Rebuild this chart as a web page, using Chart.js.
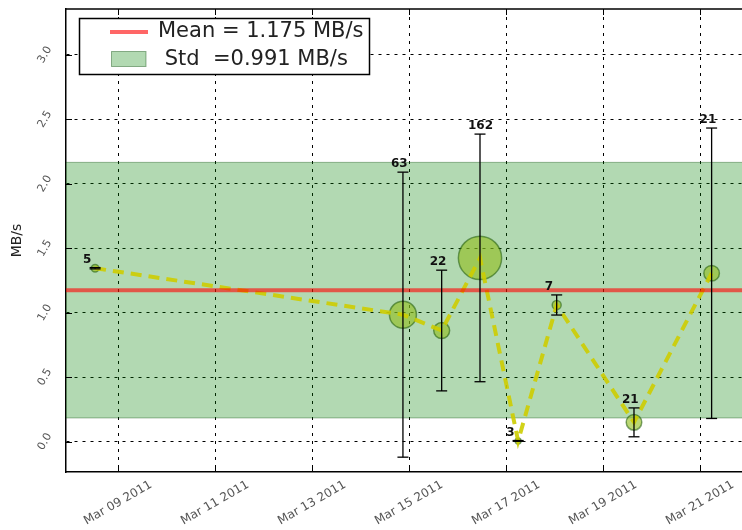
<!DOCTYPE html>
<html>
<head>
<meta charset="utf-8">
<script src="https://cdn.jsdelivr.net/npm/chart.js@4/dist/chart.umd.min.js"></script>
<style>
  html, body { margin: 0; padding: 0; background: #fff; overflow: hidden; }
  canvas { display: block; }
</style>
</head>
<body>
<canvas id="c" width="742" height="530"></canvas>
<script>
// Throughput samples: time of each run (UTC), mean rate, error half-width, number of transfers
const sampleTimes = [
  '2011-03-08T12:40:00Z', '2011-03-14T21:00:00Z', '2011-03-15T16:10:00Z', '2011-03-16T11:08:00Z',
  '2011-03-17T06:00:00Z', '2011-03-18T01:05:00Z', '2011-03-19T15:20:00Z', '2011-03-21T05:45:00Z'
];
const rates   = [1.345, 0.985, 0.862, 1.425, 0.006, 1.060, 0.150, 1.306];
const rateErr = [0.005, 1.105, 0.468, 0.960, 0.003, 0.078, 0.112, 1.126];
const counts  = [5, 63, 22, 162, 3, 7, 21, 21];

// Overall statistics (MB/s)
const MEAN = 1.175;
const STD = 0.991;

// Axis ticks
const tickDates  = ['2011-03-09', '2011-03-11', '2011-03-13', '2011-03-15', '2011-03-17', '2011-03-19', '2011-03-21'];
const tickLabels = ['Mar 09 2011', 'Mar 11 2011', 'Mar 13 2011', 'Mar 15 2011', 'Mar 17 2011', 'Mar 19 2011', 'Mar 21 2011'];
const yTicks      = [0, 0.5, 1.0, 1.5, 2.0, 2.5, 3.0];
const yTickLabels = ['0.0', '0.5', '1.0', '1.5', '2.0', '2.5', '3.0'];
const X_RANGE = ['2011-03-07T22:16:00Z', '2011-03-21T20:47:00Z'];
const Y_RANGE = [-0.235, 3.355];

const DAY_MS = 86400000;
const toDay = s => Date.parse(s) / DAY_MS;
const days = sampleTimes.map(toDay);
const tickDays = tickDates.map(d => toDay(d + 'T00:00:00Z'));
const xMin = toDay(X_RANGE[0]);
const xMax = toDay(X_RANGE[1]);

const points = days.map((d, i) => ({ x: d, y: rates[i] }));
const bubbles = days.map((d, i) => ({ x: d, y: rates[i], r: 1.7 * Math.sqrt(counts[i]) }));
const stems = [];
const caps = [];
days.forEach((d, i) => {
  stems.push({ x: d, y: rates[i] - rateErr[i] }, { x: d, y: rates[i] + rateErr[i] }, { x: d, y: null });
  caps.push({ x: d, y: rates[i] - rateErr[i] }, { x: d, y: rates[i] + rateErr[i] });
});

const FONT = '"DejaVu Sans", "Liberation Sans", sans-serif';

// Spines, inward ticks, rotated tick labels, count labels and legend
const decor = {
  id: 'decor',
  afterDraw(chart) {
    const { ctx, chartArea: a, scales: { x, y } } = chart;
    ctx.save();

    ctx.strokeStyle = '#000';
    ctx.lineWidth = 1.5;
    ctx.beginPath();
    ctx.moveTo(a.left, a.top);
    ctx.lineTo(a.right, a.top);
    ctx.stroke();

    ctx.lineWidth = 1;
    ctx.beginPath();
    tickDays.forEach(v => {
      const px = Math.round(x.getPixelForValue(v)) + 0.5;
      ctx.moveTo(px, a.bottom); ctx.lineTo(px, a.bottom - 6);
      ctx.moveTo(px, a.top); ctx.lineTo(px, a.top + 6);
    });
    yTicks.forEach(v => {
      const py = Math.round(y.getPixelForValue(v)) + 0.5;
      ctx.moveTo(a.left, py); ctx.lineTo(a.left + 6, py);
    });
    ctx.stroke();

    // y tick labels
    ctx.fillStyle = '#555';
    ctx.font = '11px ' + FONT;
    ctx.textAlign = 'center';
    ctx.textBaseline = 'middle';
    yTicks.forEach((v, i) => {
      ctx.save();
      ctx.translate(45, y.getPixelForValue(v));
      ctx.rotate(-Math.PI / 3);
      ctx.fillText(yTickLabels[i], 0, 0);
      ctx.restore();
    });

    // x tick labels
    ctx.font = '12px ' + FONT;
    tickDays.forEach((v, i) => {
      ctx.save();
      ctx.translate(x.getPixelForValue(v), 503);
      ctx.rotate(-Math.PI / 6);
      ctx.fillText(tickLabels[i], 0, 0);
      ctx.restore();
    });

    // y axis title
    ctx.save();
    ctx.fillStyle = '#222';
    ctx.font = '14px ' + FONT;
    ctx.translate(17, (a.top + a.bottom) / 2);
    ctx.rotate(-Math.PI / 2);
    ctx.fillText('MB/s', 0, 0);
    ctx.restore();

    // transfer counts above each error bar
    ctx.fillStyle = '#111';
    ctx.font = 'bold 12px ' + FONT;
    ctx.textAlign = 'left';
    ctx.textBaseline = 'alphabetic';
    days.forEach((d, i) => {
      const px = x.getPixelForValue(d);
      const py = y.getPixelForValue(rates[i] + rateErr[i]);
      ctx.fillText(String(counts[i]), px - 12, py - 5);
    });

    // legend
    ctx.fillStyle = '#fff';
    ctx.fillRect(79.5, 18.5, 290, 56);
    ctx.strokeStyle = '#000';
    ctx.lineWidth = 1.5;
    ctx.strokeRect(79.5, 18.5, 290, 56);

    ctx.strokeStyle = 'rgba(255,0,0,0.6)';
    ctx.lineWidth = 4;
    ctx.beginPath();
    ctx.moveTo(110, 32);
    ctx.lineTo(148, 32);
    ctx.stroke();

    ctx.fillStyle = 'rgba(0,128,0,0.3)';
    ctx.fillRect(111.5, 51.5, 34.5, 15);
    ctx.strokeStyle = 'rgba(0,70,0,0.4)';
    ctx.lineWidth = 1;
    ctx.strokeRect(111.5, 51.5, 34.5, 15);

    ctx.fillStyle = '#222';
    ctx.font = '21px ' + FONT;
    ctx.fillText('Mean = ' + MEAN.toFixed(3) + ' MB/s', 158, 37);
    ctx.fillText(' Std  =' + STD.toFixed(3) + ' MB/s', 158, 65);

    ctx.restore();
  }
};

new Chart(document.getElementById('c'), {
  type: 'scatter',
  data: {
    datasets: [
      { type: 'line', data: [{ x: xMin, y: MEAN + STD }, { x: xMax, y: MEAN + STD }],
        borderColor: 'rgba(0,70,0,0.35)', borderWidth: 1, backgroundColor: 'rgba(0,128,0,0.3)',
        fill: '+1', pointRadius: 0, order: 10 },
      { type: 'line', data: [{ x: xMin, y: MEAN - STD }, { x: xMax, y: MEAN - STD }],
        borderColor: 'rgba(0,70,0,0.35)', borderWidth: 1, fill: false, pointRadius: 0, order: 9 },
      { type: 'bubble', data: bubbles,
        backgroundColor: 'rgba(145,190,30,0.62)', borderColor: 'rgba(30,90,10,0.55)', borderWidth: 1.5,
        order: 7 },
      { type: 'line', data: points, borderColor: 'rgba(205,205,0,0.9)', borderWidth: 4,
        borderDash: [11, 7], pointRadius: 0, tension: 0, fill: false, order: 6 },
      { type: 'line', data: [{ x: xMin, y: MEAN }, { x: xMax, y: MEAN }],
        borderColor: 'rgba(255,0,0,0.6)', borderWidth: 4, pointRadius: 0, fill: false, order: 5 },
      { type: 'line', data: stems, borderColor: '#000', borderWidth: 1.3, pointRadius: 0,
        spanGaps: false, fill: false, order: 4 },
      { type: 'scatter', data: caps, pointStyle: 'line', pointRadius: 5.5, pointBorderWidth: 1.3,
        pointBorderColor: '#000', pointBackgroundColor: '#000', order: 3 }
    ]
  },
  options: {
    responsive: false,
    devicePixelRatio: 1,
    animation: false,
    events: [],
    layout: { autoPadding: false, padding: { top: 9, left: 0, right: 0, bottom: 0 } },
    plugins: { legend: { display: false }, tooltip: { enabled: false } },
    scales: {
      x: {
        type: 'linear', min: xMin, max: xMax, z: 1,
        afterBuildTicks: s => { s.ticks = tickDays.map(v => ({ value: v })); },
        afterFit: s => { s.height = 58; },
        ticks: { display: false },
        grid: { color: '#000', lineWidth: 1, drawTicks: false },
        border: { display: true, color: '#000', width: 1.5, dash: [3, 5] }
      },
      y: {
        type: 'linear', min: Y_RANGE[0], max: Y_RANGE[1], z: 1,
        afterBuildTicks: s => { s.ticks = yTicks.map(v => ({ value: v })); },
        afterFit: s => { s.width = 66; },
        ticks: { display: false },
        grid: { color: '#000', lineWidth: 1, drawTicks: false },
        border: { display: true, color: '#000', width: 1.5, dash: [3, 5] }
      }
    }
  },
  plugins: [decor]
});
</script>
</body>
</html>
